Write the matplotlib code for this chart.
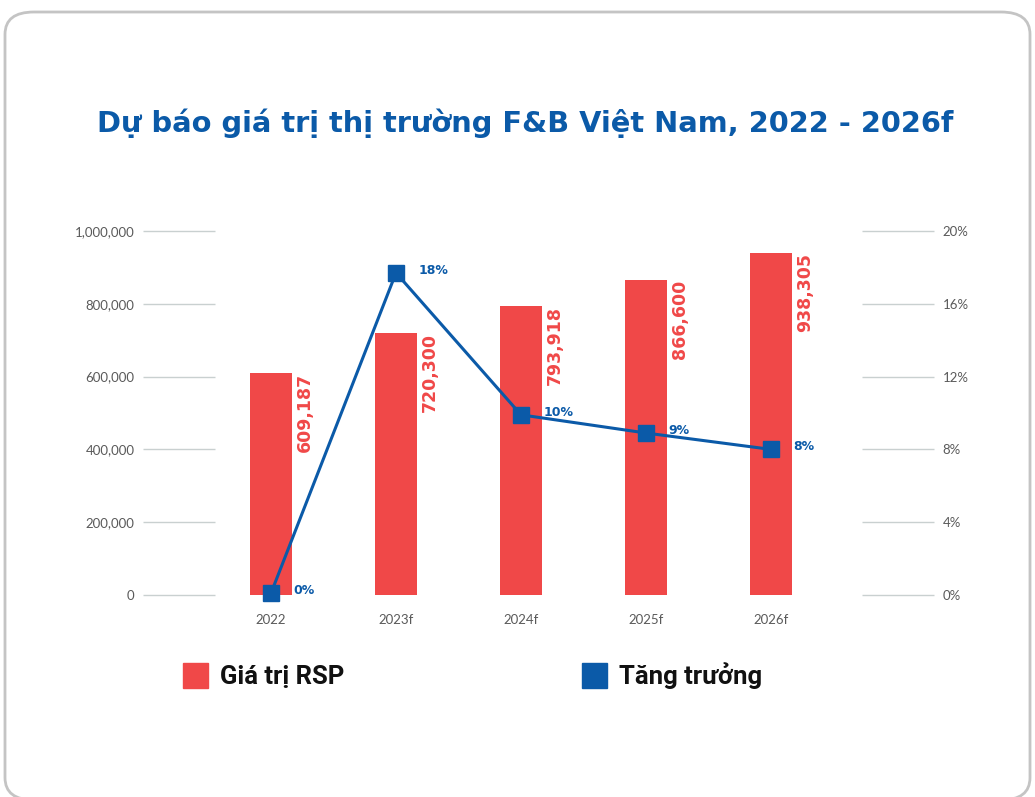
import matplotlib.pyplot as plt
from matplotlib.patches import FancyBboxPatch, Rectangle

years = ['2022', '2023f', '2024f', '2025f', '2026f']
rsp = [609187, 720300, 793918, 866600, 938305]
growth = [0.1, 17.7, 9.9, 8.9, 8.0]
growth_labels = ['0%', '18%', '10%', '9%', '8%']
left_ticks = [0, 200000, 400000, 600000, 800000, 1000000]
right_ticks = [0, 4, 8, 12, 16, 20]

red = '#f04848'
blue = '#0b5aa8'
gray_txt = '#5a5a5a'
grid_c = '#c9d0d0'

plt.rcParams['font.family'] = ['Lato', 'DejaVu Sans']

fig = plt.figure(figsize=(10.35, 7.97), dpi=100)

# rounded card border (bottom edge runs just past the image)
W, H = 1035, 797
card = FancyBboxPatch((5 / W, -3 / H), 1025 / W, 788 / H,
                      boxstyle='round,pad=0,rounding_size=0.028',
                      transform=fig.transFigure, fill=False,
                      edgecolor='#c4c4c4', linewidth=2)
fig.patches.append(card)

ax = fig.add_axes([215 / W, 202 / H, 647 / W, 364 / H])
x = list(range(len(years)))
ax.bar(x, rsp, width=0.34, color=red, zorder=2)
ax.set_xlim(-0.448, 4.728)
ax.set_ylim(0, 1000000)
ax.set_yticks(left_ticks)
ax.set_yticklabels(['{:,}'.format(v) for v in left_ticks])
ax.tick_params(axis='y', length=52, width=1, color=grid_c, pad=6,
               labelsize=9.5, labelcolor=gray_txt)
ax.set_xticks(x)
ax.set_xticklabels(years)
ax.tick_params(axis='x', length=0, pad=14, labelsize=9.5, labelcolor=gray_txt)
for s in ax.spines.values():
    s.set_visible(False)
ax.patch.set_alpha(0)

for xi, v in zip(x, rsp):
    ax.text(xi + 0.2, v, '{:,}'.format(v), rotation=90, ha='left', va='top',
            color=red, fontsize=12.5, fontweight='bold', family=['DejaVu Sans'])

ax2 = ax.twinx()
ax2.set_ylim(0, 20)
ax2.plot(x, growth, color=blue, linewidth=2.2, marker='s', markersize=12,
         clip_on=False, zorder=3)
ax2.set_yticks(right_ticks)
ax2.set_yticklabels(['{}%'.format(v) for v in right_ticks])
ax2.tick_params(axis='y', length=52, width=1, color=grid_c, pad=6,
                labelsize=9.5, labelcolor=gray_txt)
for s in ax2.spines.values():
    s.set_visible(False)

for xi, g, lab in zip(x, growth, growth_labels):
    ax2.text(xi + 0.18, g + 0.15, lab, ha='left', va='center', color=blue,
             fontsize=9, fontweight='bold', family=['DejaVu Sans'])

fig.text(0.507, 0.845, 'Dự báo giá trị thị trường F&B Việt Nam, 2022 - 2026f',
         ha='center', va='center', color=blue, fontsize=20.8, fontweight='bold',
         family=['DejaVu Sans'])

# legend
fig.patches.append(Rectangle((183 / W, (797 - 688) / H), 25 / W, 25 / H,
                             transform=fig.transFigure, color=red))
fig.text(220 / W, (797 - 676) / H, 'Giá trị RSP', ha='left', va='center',
         fontsize=18.5, fontweight='bold', color='#111111',
         family=['Roboto', 'DejaVu Sans'])
fig.patches.append(Rectangle((582 / W, (797 - 688) / H), 25 / W, 25 / H,
                             transform=fig.transFigure, color=blue))
fig.text(619 / W, (797 - 676) / H, 'Tăng trưởng', ha='left', va='center',
         fontsize=18.5, fontweight='bold', color='#111111',
         family=['Roboto', 'DejaVu Sans'])

fig.savefig('out.png', dpi=100, facecolor='white')
